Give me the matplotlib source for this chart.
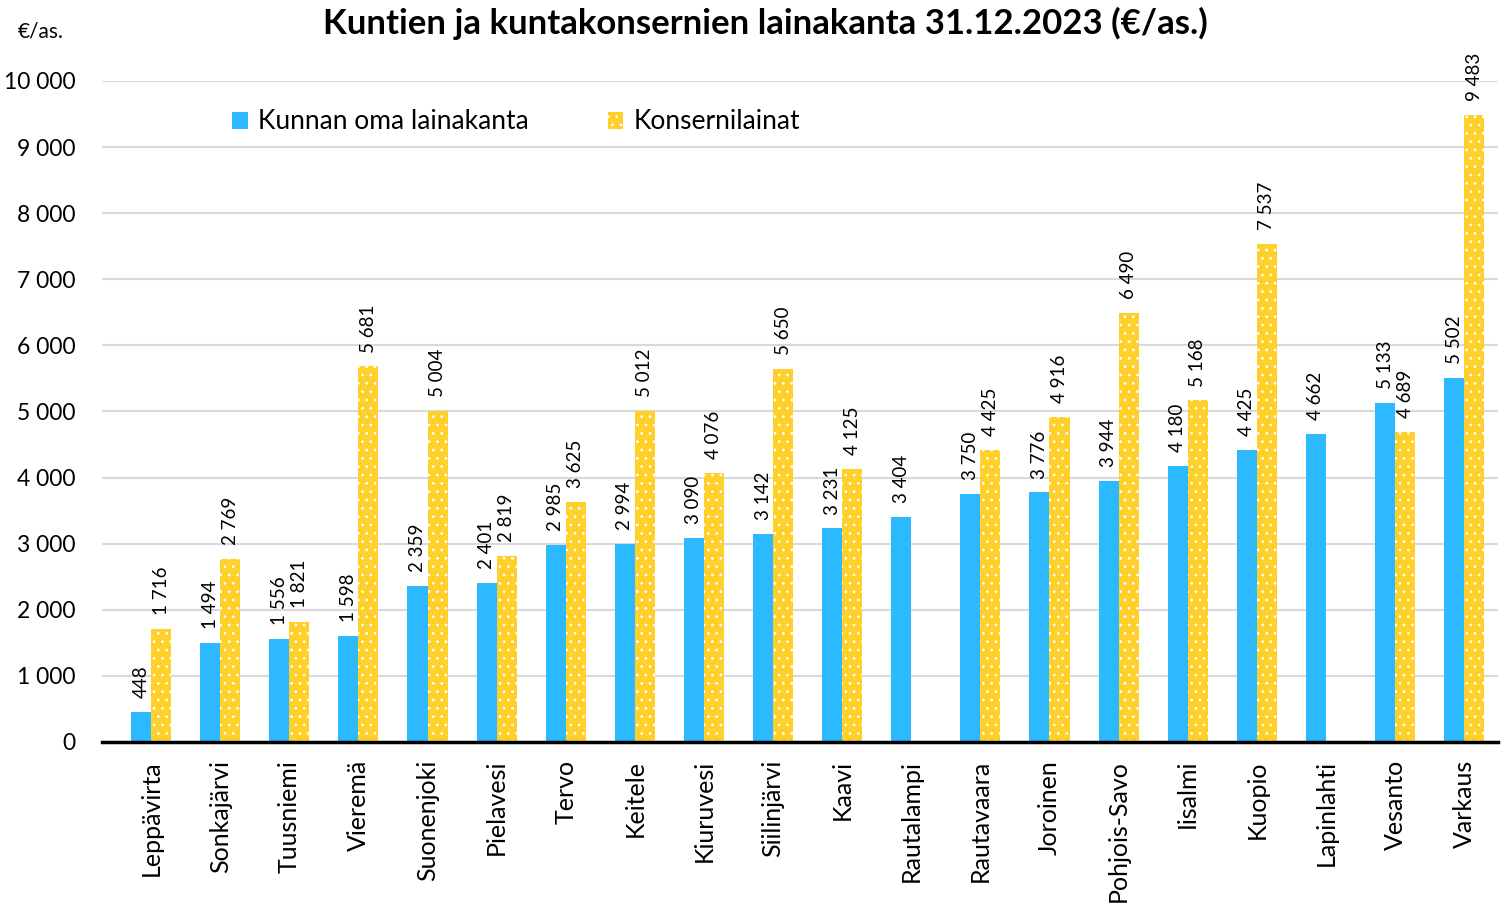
import matplotlib.pyplot as plt
import numpy as np

plt.rcParams['font.family'] = ['Lato', 'DejaVu Sans']
plt.rcParams['hatch.linewidth'] = 0.8

kunnat = ['Leppävirta', 'Sonkajärvi', 'Tuusniemi', 'Vieremä', 'Suonenjoki',
          'Pielavesi', 'Tervo', 'Keitele', 'Kiuruvesi', 'Siilinjärvi', 'Kaavi',
          'Rautalampi', 'Rautavaara', 'Joroinen', 'Pohjois-Savo', 'Iisalmi',
          'Kuopio', 'Lapinlahti', 'Vesanto', 'Varkaus']
oma = [448, 1494, 1556, 1598, 2359, 2401, 2985, 2994, 3090, 3142, 3231,
       3404, 3750, 3776, 3944, 4180, 4425, 4662, 5133, 5502]
konserni = [1716, 2769, 1821, 5681, 5004, 2819, 3625, 5012, 4076, 5650, 4125,
            None, 4425, 4916, 6490, 5168, 7537, None, 4689, 9483]

blue = '#2CB9FF'
yellow = '#FFD02A'


def fmt(v):
    return f'{v:,.0f}'.replace(',', ' ')


fig = plt.figure(figsize=(15.07, 9.14), dpi=100)
ax = fig.add_axes([102 / 1507, 1 - 742 / 914, 1396 / 1507, 661 / 914])

x = np.arange(len(kunnat))
w = 0.29
ax.bar(x - w / 2, oma, w, color=blue, zorder=2, label='Kunnan oma lainakanta')
kx = np.array([i for i, v in zip(x, konserni) if v is not None])
kv = [v for v in konserni if v is not None]
ax.bar(kx + w / 2, kv, w, color=yellow, edgecolor='white', linewidth=0,
       hatch='..', zorder=2, label='Konsernilainat')

for i, v in zip(x, oma):
    ax.annotate(fmt(v), (i - w / 2, v), xytext=(0, 10), textcoords='offset points',
                rotation=90, ha='center', va='bottom', fontsize=13.5,
                annotation_clip=False)
for i, v in zip(kx, kv):
    ax.annotate(fmt(v), (i + w / 2, v), xytext=(0, 10), textcoords='offset points',
                rotation=90, ha='center', va='bottom', fontsize=13.5,
                annotation_clip=False)

ax.set_xlim(-0.71, 19.49)
ax.set_ylim(0, 10000)
ax.set_yticks(range(0, 10001, 1000))
ax.set_yticklabels([fmt(t) for t in range(0, 10001, 1000)], fontsize=16.5)
ax.set_xticks(x)
ax.set_xticklabels(kunnat, rotation=90, fontsize=18)
ax.tick_params(axis='x', length=0, pad=13)
ax.tick_params(axis='y', length=0, pad=19)
ax.grid(axis='y', color='#D9D9D9', linewidth=1.5, zorder=0)
ax.set_axisbelow(True)
for s in ['top', 'right', 'left']:
    ax.spines[s].set_visible(False)
ax.spines['bottom'].set_linewidth(2.5)
ax.spines['bottom'].set_color('black')

ax.legend(loc='center left', bbox_to_anchor=(0.093, 0.938), ncol=2,
          frameon=False, fontsize=19, handlelength=0.6, handleheight=0.6,
          columnspacing=3.0, handletextpad=0.38, borderpad=0, borderaxespad=0)

fig.text(0.508, 0.974, 'Kuntien ja kuntakonsernien lainakanta 31.12.2023 (€/as.)',
         ha='center', va='center', fontsize=25, fontweight='bold')
fig.text(0.012, 0.966, '€/as.', ha='left', va='center', fontsize=15)

fig.savefig('out.png', dpi=100)
